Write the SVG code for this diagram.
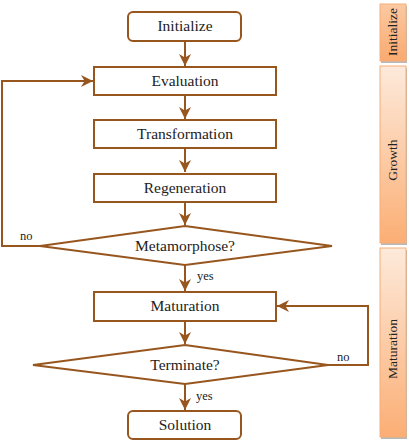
<svg xmlns="http://www.w3.org/2000/svg" width="409" height="445" viewBox="0 0 409 445">
<defs>
<linearGradient id="barg" x1="0" y1="0" x2="0" y2="1">
<stop offset="0" stop-color="#FDEADB"/>
<stop offset="1" stop-color="#FBAE74"/>
</linearGradient>
<linearGradient id="barg2" x1="0" y1="0" x2="0" y2="1">
<stop offset="0" stop-color="#FBC9A2"/>
<stop offset="1" stop-color="#F9AA70"/>
</linearGradient>
<marker id="ah" markerWidth="12" markerHeight="12" refX="10" refY="5" orient="auto" markerUnits="userSpaceOnUse" viewBox="0 0 10 10">
<path d="M0,0 L10,5 L0,10 L3,5 Z" fill="#98561F"/>
</marker>
</defs>
<style>
.box{fill:#fff;stroke:#98561F;stroke-width:2}
.con{fill:none;stroke:#98561F;stroke-width:2}
.t{font-family:"Liberation Serif","Times New Roman",serif;font-size:15.5px;fill:#222;text-anchor:middle}
.l{font-family:"Liberation Serif","Times New Roman",serif;font-size:12.5px;fill:#222}
.bar{stroke:#F6AE78;stroke-width:1}
.sh{fill:#9a9a9a;opacity:0.7}
.bt{font-family:"Liberation Serif","Times New Roman",serif;font-size:13.5px;fill:#222;text-anchor:middle}
</style>
<g id="connectors">
<line class="con" x1="185" y1="41" x2="185" y2="66" marker-end="url(#ah)"/>
<line class="con" x1="185" y1="95" x2="185" y2="119" marker-end="url(#ah)"/>
<line class="con" x1="185" y1="148" x2="185" y2="172" marker-end="url(#ah)"/>
<line class="con" x1="185" y1="202" x2="185" y2="225" marker-end="url(#ah)"/>
<line class="con" x1="185" y1="265" x2="185" y2="291" marker-end="url(#ah)"/>
<line class="con" x1="185" y1="321" x2="185" y2="344" marker-end="url(#ah)"/>
<line class="con" x1="185" y1="384" x2="185" y2="410" marker-end="url(#ah)"/>
<polyline class="con" points="40,246 2,246 2,81 93,81" marker-end="url(#ah)"/>
<polyline class="con" points="328,365 368,365 368,306 277,306" marker-end="url(#ah)"/>
<text class="l" x="20" y="240">no</text>
<text class="l" x="197" y="280">yes</text>
<text class="l" x="337" y="361">no</text>
<text class="l" x="196" y="400">yes</text>
</g>
<g id="initialize"><rect class="box" x="128" y="12" width="113" height="29" rx="5"/><text class="t" x="185" y="31">Initialize</text></g>
<g id="evaluation"><rect class="box" x="94" y="67" width="182" height="28"/><text class="t" x="185" y="86">Evaluation</text></g>
<g id="transformation"><rect class="box" x="94" y="120" width="182" height="28"/><text class="t" x="185" y="139">Transformation</text></g>
<g id="regeneration"><rect class="box" x="94" y="174" width="182" height="28"/><text class="t" x="185" y="193">Regeneration</text></g>
<g id="metamorphose"><polygon class="box" points="185,226 332,246 185,265 40,246"/><text class="t" x="185" y="251">Metamorphose?</text></g>
<g id="maturation"><rect class="box" x="94" y="292" width="182" height="29"/><text class="t" x="185" y="311">Maturation</text></g>
<g id="terminate"><polygon class="box" points="185,345 328,365 185,384 33,365"/><text class="t" x="185" y="370">Terminate?</text></g>
<g id="solution"><rect class="box" x="128" y="411" width="113" height="28" rx="5"/><text class="t" x="185" y="430">Solution</text></g>
<g id="phase-initialize">
<rect class="sh" x="381" y="6" width="26" height="57"/>
<rect class="bar" x="380" y="4" width="26" height="57" fill="url(#barg2)"/>
<text class="bt" transform="translate(397,32) rotate(-90)">Initialize</text>
</g>
<g id="phase-growth">
<rect class="sh" x="381" y="68" width="26" height="177"/>
<rect class="bar" x="380" y="66" width="26" height="177" fill="url(#barg)"/>
<text class="bt" transform="translate(397,160) rotate(-90)">Growth</text>
</g>
<g id="phase-maturation">
<rect class="sh" x="381" y="250" width="26" height="189"/>
<rect class="bar" x="380" y="248" width="26" height="189" fill="url(#barg)"/>
<text class="bt" transform="translate(397,349) rotate(-90)">Maturation</text>
</g>
</svg>
